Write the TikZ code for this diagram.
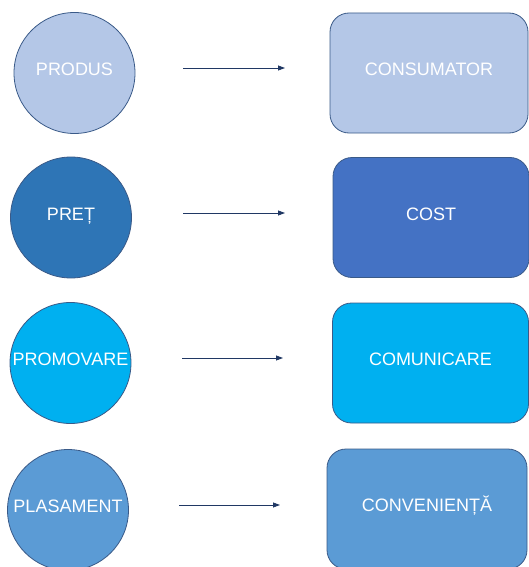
\documentclass[tikz,border=0pt]{standalone}
\usepackage{fontspec}
\setmainfont{Liberation Sans}
\usetikzlibrary{arrows.meta}
\definecolor{pale}{HTML}{B4C7E7}
\definecolor{deepblue}{HTML}{2E75B6}
\definecolor{royal}{HTML}{4472C4}
\definecolor{cyanblue}{HTML}{00B0F0}
\definecolor{midblue}{HTML}{5B9BD5}
\definecolor{rim}{HTML}{3A5A88}
\definecolor{navy}{HTML}{203864}
\tikzset{
   pcirc/.style={circle,draw=rim,line width=0.8pt,minimum size=121pt,inner sep=0pt,
      text=white,font=\fontsize{18}{22}\selectfont,text height=13pt,text depth=8pt},
   cbox/.style={rectangle,rounded corners=19pt,draw=rim,line width=0.8pt,
      minimum width=196pt,minimum height=120pt,inner sep=0pt,
      text=white,font=\fontsize{18}{22}\selectfont,text height=13pt,text depth=8pt},
   arr/.style={draw=navy,line width=0.8pt,-{Triangle[length=7pt,width=5pt]}}
}
\begin{document}
\begin{tikzpicture}[x=1pt,y=-1pt]
   \useasboundingbox (0,0) rectangle (528,567);
   \node[pcirc,fill=pale] (produs) at (74.5,73) {PRODUS};
   \node[pcirc,fill=deepblue] (pret) at (71,217.5) {PREȚ};
   \node[pcirc,fill=cyanblue] (promovare) at (70.5,363) {PROMOVARE};
   \node[pcirc,fill=midblue] (plasament) at (68,510) {PLASAMENT};

   \node[cbox,fill=pale,minimum width=198pt] (consumator) at (429,73) {CONSUMATOR};
   \node[cbox,fill=royal] (cost) at (431,217.5) {COST};
   \node[cbox,fill=cyanblue] (comunicare) at (430.5,363) {COMUNICARE};
   \node[cbox,fill=midblue,minimum width=200pt] (convenienta) at (427,509) {CONVENIENȚĂ};

   \coordinate (s1) at (183,68);   \coordinate (e1) at (285,68);
   \coordinate (s2) at (183,213);  \coordinate (e2) at (285,213);
   \coordinate (s3) at (182,358);  \coordinate (e3) at (283,358);
   \coordinate (s4) at (179,505);  \coordinate (e4) at (280,505);
   \draw[arr] (s1) -- (e1);
   \draw[arr] (s2) -- (e2);
   \draw[arr] (s3) -- (e3);
   \draw[arr] (s4) -- (e4);
 \end{tikzpicture}
\end{document}
